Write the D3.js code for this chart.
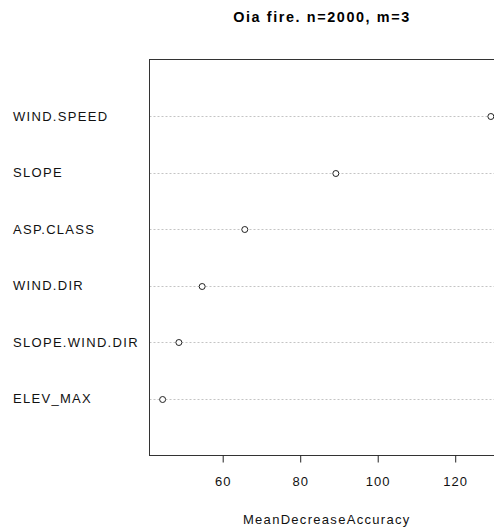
<!DOCTYPE html>
<html>
<head>
<meta charset="utf-8">
<script src="https://cdn.jsdelivr.net/npm/d3@7"></script>
<style>
  body { margin: 0; background: #fff; }
  text { font-family: "Liberation Sans", Arial, sans-serif; }
</style>
</head>
<body>
<div id="chart"></div>
<script>
// variable importance, top to bottom
var variables = ["WIND.SPEED", "SLOPE", "ASP.CLASS", "WIND.DIR", "SLOPE.WIND.DIR", "ELEV_MAX"];
var accuracy = [129.2, 89.2, 65.7, 54.7, 48.7, 44.5];
var ticks = [60, 80, 100, 120];

var width = 494, height = 529;
// plot box edges (note: "top" is reserved on window, so use other names)
var boxLeft = 149.5, boxRight = 504, boxTop = 59.5, boxBottom = 455.5;
var midX = (boxLeft + boxRight) / 2;

var svg = d3.select("#chart").append("svg")
    .attr("width", width)
    .attr("height", height);

// R dotchart: xlim is range extended by 4%
var lo = d3.min(accuracy), hi = d3.max(accuracy), pad = (hi - lo) * 0.04;
var x = d3.scaleLinear()
    .domain([lo - pad, hi + pad])
    .range([boxLeft, boxRight]);

var y = d3.scaleLinear()
    .domain([0, variables.length + 1])
    .range([boxBottom, boxTop]);

var rows = variables.map(function (v, i) {
    return { name: v, value: accuracy[i], pos: variables.length - i };
});

// dotted guide lines
svg.selectAll(".guide")
    .data(rows)
    .enter()
    .append("line")
    .attr("class", "guide")
    .attr("x1", boxLeft)
    .attr("x2", boxRight)
    .attr("y1", function (d) { return Math.round(y(d.pos)) + 0.5; })
    .attr("y2", function (d) { return Math.round(y(d.pos)) + 0.5; })
    .attr("stroke", "#c4c4c4")
    .attr("stroke-dasharray", "2,2");

// points
svg.selectAll(".dot")
    .data(rows)
    .enter()
    .append("circle")
    .attr("class", "dot")
    .attr("cx", function (d) { return x(d.value); })
    .attr("cy", function (d) { return Math.round(y(d.pos)) + 0.5; })
    .attr("r", 3)
    .attr("fill", "#fff")
    .attr("stroke", "#222")
    .attr("stroke-width", 1);

// row labels, left aligned
svg.selectAll(".lab")
    .data(rows)
    .enter()
    .append("text")
    .attr("class", "lab")
    .attr("x", 13)
    .attr("y", function (d) { return y(d.pos) + 4.5; })
    .attr("font-size", "13px")
    .attr("letter-spacing", "1.3px")
    .attr("fill", "#111")
    .text(function (d) { return d.name; });

// plot box
svg.append("rect")
    .attr("x", boxLeft)
    .attr("y", boxTop)
    .attr("width", boxRight - boxLeft)
    .attr("height", boxBottom - boxTop)
    .attr("fill", "none")
    .attr("stroke", "#333");

// x axis
var axis = svg.append("g")
    .attr("transform", "translate(0," + boxBottom + ")")
    .call(d3.axisBottom(x).tickValues(ticks).tickSize(7).tickPadding(14));
axis.select(".domain").remove();
axis.selectAll("line").attr("stroke", "#222");
axis.selectAll("text")
    .attr("font-size", "13px")
    .attr("letter-spacing", "1px")
    .attr("fill", "#111")
    .style("font-family", "Liberation Sans, Arial, sans-serif");

svg.append("text")
    .attr("x", midX)
    .attr("y", 524)
    .attr("text-anchor", "middle")
    .attr("font-size", "13px")
    .attr("letter-spacing", "1.3px")
    .attr("fill", "#111")
    .text("MeanDecreaseAccuracy");

svg.append("text")
    .attr("x", 322)
    .attr("y", 22)
    .attr("text-anchor", "middle")
    .attr("font-size", "14.4px")
    .attr("letter-spacing", "1.6px")
    .attr("font-weight", "bold")
    .attr("fill", "#000")
    .text("Oia fire. n=2000, m=3");
</script>
</body>
</html>
